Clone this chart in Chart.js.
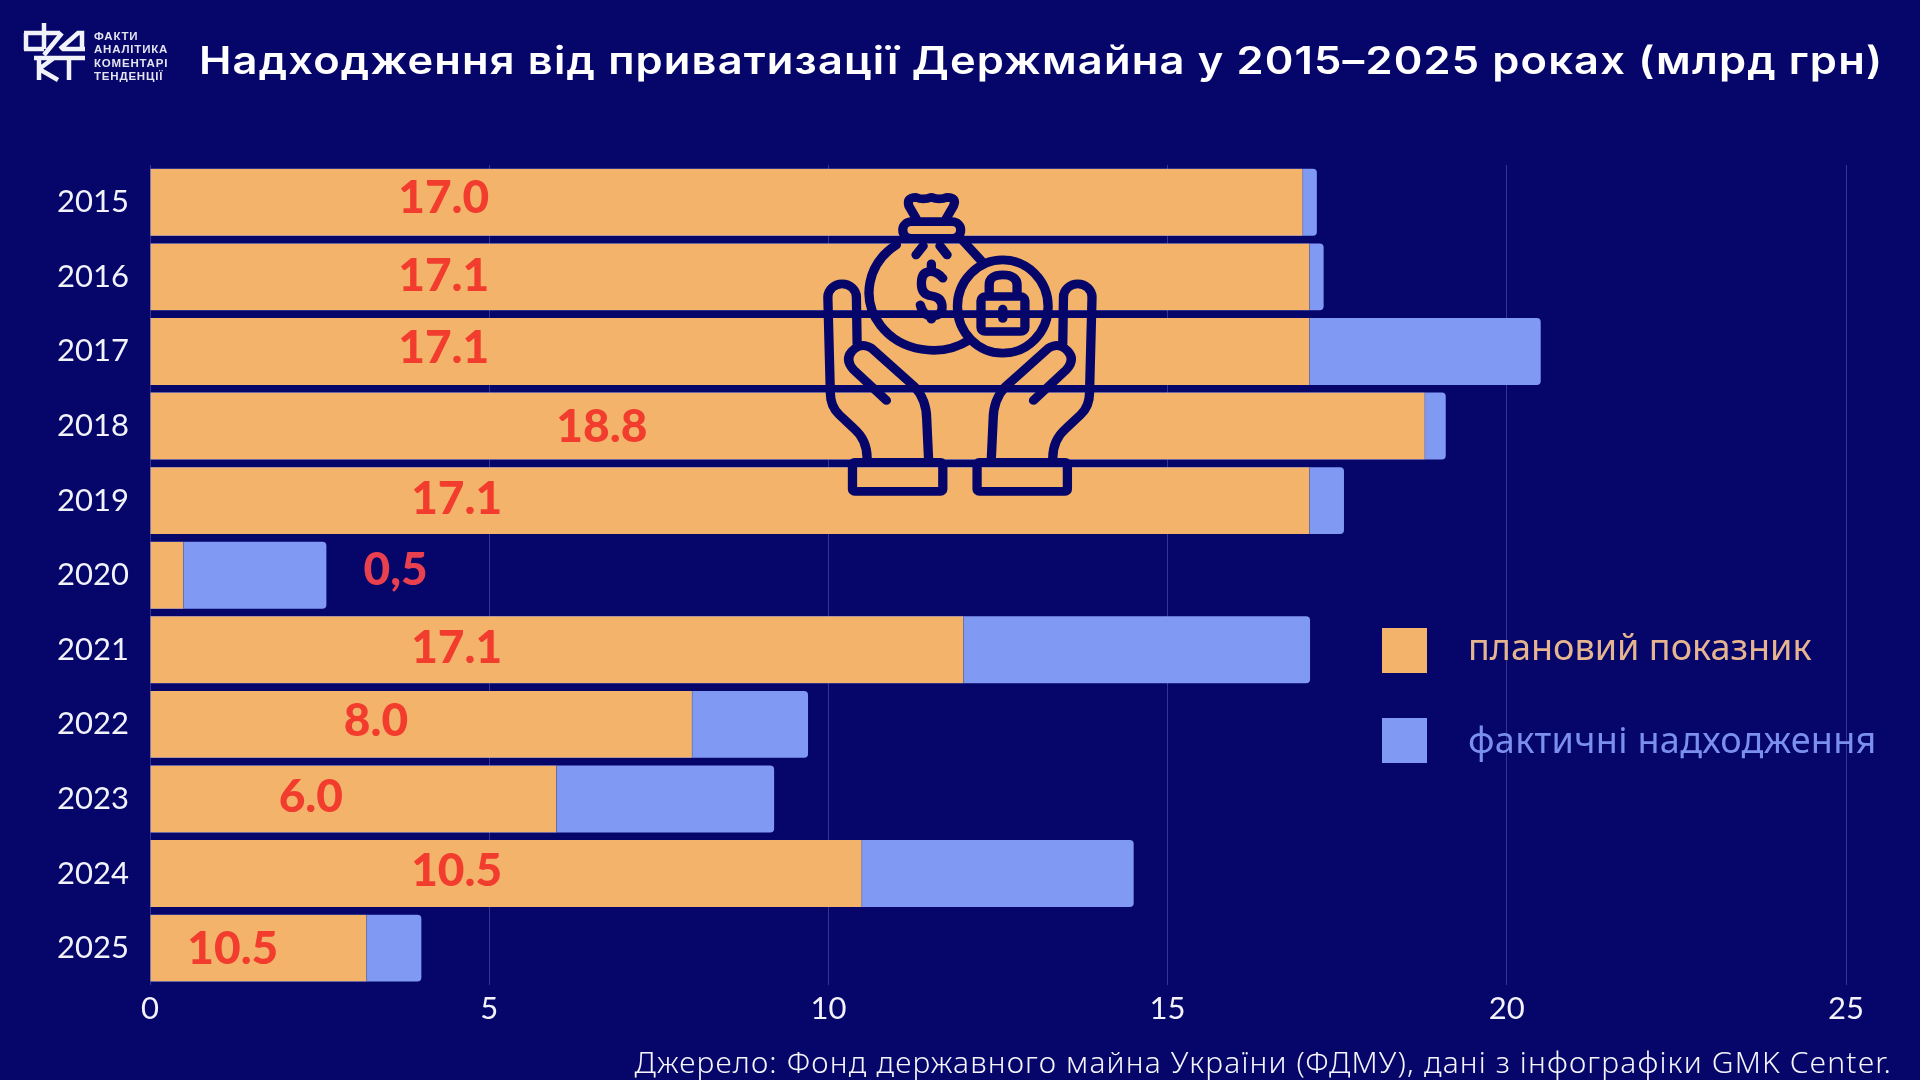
<!DOCTYPE html>
<html lang="uk">
<head>
<meta charset="utf-8">
<title>Надходження від приватизації Держмайна</title>
<script src="https://cdn.jsdelivr.net/npm/chart.js@4"></script>
<style>
	html, body { margin: 0; padding: 0; background: #05056a; }
	#wrap { position: relative; width: 1920px; height: 1080px; overflow: hidden; background: #05056a; }
	#chart { position: absolute; left: 0; top: 0; }
	#title { position: absolute; left: 199px; top: 37px; white-space: nowrap; color: #fff; font: 600 38px Inter; letter-spacing: 1px; transform-origin: 0 0; transform: scaleX(1.144); }
	#source { position: absolute; right: 28px; top: 1041px; white-space: nowrap; color: #f4f4fa; font: 300 30px "Noto Sans"; letter-spacing: 1.15px; }
	.swatch { position: absolute; left: 1382px; width: 45px; height: 45px; }
	.legend { position: absolute; left: 1468px; white-space: nowrap; font: 400 36px "Noto Sans"; }
	#brand { position: absolute; left: 94px; top: 30px; color: #e4e4f0; font: 700 11.5px/13.4px "Liberation Sans"; letter-spacing: .8px; }
	svg { position: absolute; left: 0; top: 0; pointer-events: none; }
</style>
</head>
<body>
<div id="wrap">
	<canvas id="chart" width="1920" height="1080"></canvas>

	<div id="title">Надходження від приватизації Держмайна у 2015–2025 роках (млрд грн)</div>
	<div id="source">Джерело: Фонд державного майна України (ФДМУ), дані з інфографіки GMK Center.</div>

	<div class="swatch" style="top:628px;background:#f3b36b"></div>
	<div class="legend" style="top:622px;color:#e6b58f">плановий показник</div>
	<div class="swatch" style="top:718px;background:#8099f3"></div>
	<div class="legend" style="top:715px;color:#7b8fee;letter-spacing:.3px">фактичні надходження</div>

	<div id="brand">ФАКТИ<br>АНАЛІТИКА<br>КОМЕНТАРІ<br>ТЕНДЕНЦІЇ</div>

	<!-- logo mark -->
	<svg width="1920" height="1080" fill="none" stroke="#f2f2fa" stroke-width="4.5">
		<path d="M44 23V49M24 33H60M26 33V50M24 49H44M62 33L44 55M60 49L78 33H82V51M62 49H85M34 58H85M39 58V80M39 69L54 58M39 69L58 80M69 58V80"/>
	</svg>

	<!-- money bag held in two hands -->
	<svg width="1920" height="1080" fill="none" stroke="#05056a" stroke-width="26" stroke-linecap="round" stroke-linejoin="round">
		<g transform="translate(800,170) scale(.357,.333)">
			<path d="M325 145L305 108Q298 82 325 82Q345 92 368 82Q390 92 412 82Q440 82 430 108L410 145"/>
			<rect x="288" y="155" width="162" height="50" rx="24"/>
			<path d="M270 225A170 165 0 1 0 475 510"/>
			<path d="M450 205L510 275"/>
			<path d="M325 255L345 228M412 255L392 228"/>
			<path d="M400 325Q385 305 365 305Q340 305 340 340Q340 375 368 378Q398 382 398 412Q398 440 368 438Q345 438 337 405"/>
			<path d="M368 282V305M368 438V448"/>
			<ellipse cx="568" cy="410" rx="127" ry="140"/>
			<rect x="507" y="380" width="123" height="105" rx="12"/>
			<path d="M530 375V345Q530 315 568 315Q608 315 608 345V375"/>
			<path d="M568 418V446"/>
			<g id="hand">
				<path d="M160 520L158 382A40 40 0 0 0 78 382L85 670Q85 710 110 735L150 775Q188 810 188 865"/>
				<path d="M242 692L150 600Q125 570 145 545Q170 515 200 535L320 650Q355 690 355 750L360 865"/>
				<rect x="147" y="878" width="253" height="87" rx="6"/>
			</g>
			<use href="#hand" transform="translate(896,0) scale(-1,1)"/>
		</g>
	</svg>
</div>

<script>
"use strict"

// DATA -----------------------
const years = ["2015", "2016", "2017", "2018", "2019", "2020", "2021", "2022", "2023", "2024", "2025"]
const planned = [17.0, 17.1, 17.1, 18.8, 17.1, 0.5, 12.0, 8.0, 6.0, 10.5, 3.2]
const actual = [17.2, 17.3, 20.5, 19.1, 17.6, 2.6, 17.1, 9.7, 9.2, 14.5, 4.0]
const valueLabels = ["17.0", "17.1", "17.1", "18.8", "17.1", "0,5", "17.1", "8.0", "6.0", "10.5", "10.5"]

// where each value label sits: along the x axis, and its shift off the bar centre
const labelAt = [4.33, 4.33, 4.33, 6.66, 4.52, 3.62, 4.52, 3.33, 2.37, 4.52, 1.22]
const labelShift = [-4, -1, -3, 1, -1, -5, -2, -3, -2, -2, 1]

// PLUGINS -----------------------
const valueLabelPlugin = {
	id: "valueLabels",
	afterDatasetsDraw(chart) {
		const { ctx, scales } = chart
		ctx.save()
		ctx.font = "900 46px Lato"
		ctx.textAlign = "center"
		ctx.textBaseline = "middle"
		valueLabels.forEach((text, i) => {
			ctx.fillStyle = text == "0,5" ? "#e8404f" : "#f23c2d"
			ctx.fillText(text, scales.x.getPixelForValue(labelAt[i]), scales.y.getPixelForValue(i) + labelShift[i])
		})
		ctx.restore()
	},
}

// CHART -----------------------
new Chart(document.getElementById("chart"), {
	type: "bar",
	plugins: [valueLabelPlugin],
	data: {
		labels: years,
		datasets: [
			{
				label: "плановий показник",
				data: planned,
				backgroundColor: "#f3b36b",
				borderColor: "rgba(95, 95, 130, 0.8)",
				borderWidth: { right: 1 },
				borderSkipped: false,
				grouped: false,
				barPercentage: 0.897,
				categoryPercentage: 1,
			},
			{
				label: "фактичні надходження",
				data: actual,
				backgroundColor: "#8099f3",
				borderRadius: 4,
				grouped: false,
				barPercentage: 0.897,
				categoryPercentage: 1,
			},
		],
	},
	options: {
		indexAxis: "y",
		responsive: false,
		animation: false,
		layout: { padding: { top: 165, right: 74, left: 0, bottom: 0 } },
		plugins: {
			legend: { display: false },
			title: { display: false },
			tooltip: { enabled: false },
		},
		scales: {
			x: {
				min: 0,
				max: 25,
				afterFit(scale) {
					scale.height = 94.6
				},
				border: { display: false },
				grid: { color: "rgba(120, 125, 200, 0.4)", lineWidth: 1, drawTicks: false },
				ticks: {
					stepSize: 5,
					padding: 5,
					maxRotation: 0,
					color: "#f2f2fa",
					font: { family: "Lato", size: 31 },
				},
			},
			y: {
				afterFit(scale) {
					scale.width = 150
				},
				border: { display: false },
				grid: { display: false },
				ticks: {
					padding: 13,
					color: "#f2f2fa",
					font: { family: "Lato", size: 31 },
				},
			},
		},
	},
})
</script>
</body>
</html>
